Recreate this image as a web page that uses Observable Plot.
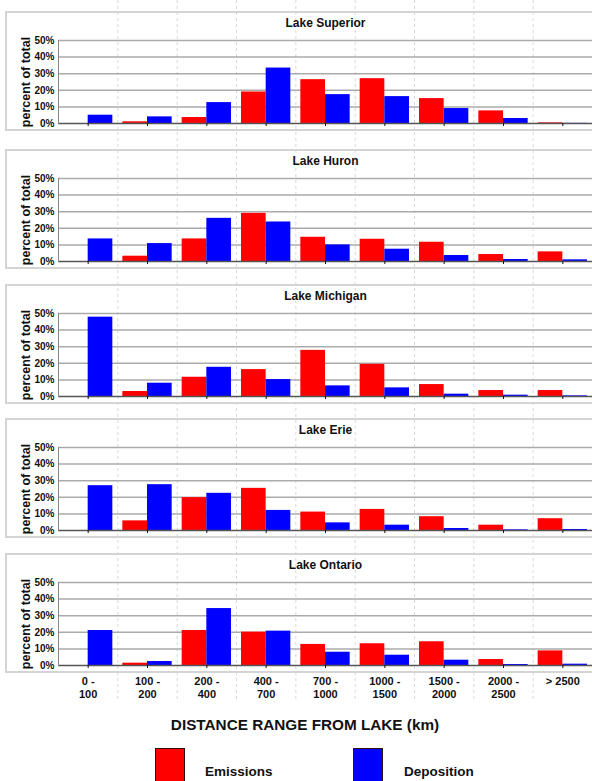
<!DOCTYPE html>
<html><head><meta charset="utf-8">
<script src="https://cdn.jsdelivr.net/npm/d3@7"></script>
<script src="https://cdn.jsdelivr.net/npm/@observablehq/plot@0.6"></script>
<style>
body{margin:0;background:#fff;font-family:"Liberation Sans",Arial,sans-serif;}
#root{position:relative;width:592px;height:781px;overflow:hidden;background:#fff;}
#root > svg{position:absolute;left:0;}
.box{position:absolute;left:5px;width:640px;border:2px solid #d4d4d4;box-sizing:border-box;}
.xtitle{position:absolute;left:0;width:610px;text-align:center;font-weight:bold;font-size:15.3px;line-height:20px;color:#111;}
.sw{position:absolute;box-sizing:border-box;border:1.5px solid #301010;}
.lt{position:absolute;font-weight:bold;font-size:13.5px;line-height:16px;color:#111;}
</style></head><body><div id="root"></div>
<script>
// ---- data ----
const categories = ["0-100","100-200","200-400","400-700","700-1000","1000-1500","1500-2000","2000-2500",">2500"];
const tickLabels = ["0 -\n100","100 -\n200","200 -\n400","400 -\n700","700 -\n1000","1000 -\n1500","1500 -\n2000","2000 -\n2500","> 2500"];
const lakes = ["Lake Superior","Lake Huron","Lake Michigan","Lake Erie","Lake Ontario"];
const seriesNames = ["Emissions","Deposition"];
const seriesColors = ["#ff0000","#0000ff"];
const yTicks = [0,10,20,30,40,50];
const yLabel = "percent of total";
const xTitle = "DISTANCE RANGE FROM LAKE (km)";

const superiorEmissions  = [0, 1.0, 3.6, 19.0, 26.4, 27.0, 15.0, 7.6, 0.4];
const superiorDeposition = [5.0, 4.0, 12.6, 33.4, 17.4, 16.2, 9.0, 3.0, 0.1];
const huronEmissions     = [0, 3.2, 13.6, 29.0, 14.6, 13.4, 11.6, 4.2, 5.8];
const huronDeposition    = [13.6, 10.8, 26.0, 23.8, 10.0, 7.4, 3.6, 1.2, 1.0];
const michiganEmissions  = [0, 3.0, 11.6, 16.2, 27.8, 19.4, 7.2, 3.6, 3.6];
const michiganDeposition = [47.8, 8.0, 17.6, 10.2, 6.4, 5.2, 1.4, 0.8, 0.4];
const erieEmissions      = [0, 5.8, 19.8, 25.4, 11.1, 12.7, 8.3, 3.2, 7.1];
const erieDeposition     = [27.0, 27.6, 22.4, 12.1, 4.6, 3.2, 1.2, 0.4, 0.6];
const ontarioEmissions   = [0, 1.4, 21.1, 20.1, 12.7, 13.1, 14.3, 3.6, 8.8];
const ontarioDeposition  = [21.1, 2.4, 34.3, 20.7, 8.0, 6.2, 3.2, 0.6, 0.8];

const emissions  = [superiorEmissions, huronEmissions, michiganEmissions, erieEmissions, ontarioEmissions];
const deposition = [superiorDeposition, huronDeposition, michiganDeposition, erieDeposition, ontarioDeposition];

// ---- layout ----
const W = 592, ML = 58;
const boxTops = [11, 149, 284, 418, 553];
const boxH = 120, plotTopOff = 29, plotBottomOff = 112, extraBottom = 42;
const font = "'Liberation Sans', Arial, Helvetica, sans-serif";
const root = document.getElementById("root");

// background dashed separators
const bg = Plot.plot({
  width: W, height: 702, marginLeft: ML, marginRight: 0, marginTop: 0, marginBottom: 0,
  style: {background: "transparent"},
  x: {domain: [0, categories.length], axis: null},
  y: {axis: null},
  marks: [Plot.ruleX(d3.range(1, categories.length), {stroke: "#d8d8d8", strokeDasharray: "3,3"})]
});
bg.style.top = "0px";
root.appendChild(bg);

function panel(name, em, dep, last) {
  const rows = categories.map((c, i) => ({c, e: em[i], d: dep[i]}));
  const step = (W - ML) / categories.length;
  const gap = 5;
  const H = last ? boxH + extraBottom : boxH;
  return Plot.plot({
    width: W, height: H, marginLeft: ML, marginRight: 0,
    marginTop: plotTopOff, marginBottom: H - plotBottomOff,
    style: {fontFamily: font, fontSize: "10px", fontWeight: "bold", background: "transparent", overflow: "visible", color: "#111"},
    x: {type: "band", domain: categories, padding: 0, round: false, axis: null},
    y: {domain: [0, 50], axis: null},
    marks: [
      Plot.ruleY(yTicks.slice(1), {stroke: "#ababab", strokeWidth: 1.5}),
      Plot.barY(rows, {x: "c", y: "e", fill: seriesColors[0], insetLeft: gap, insetRight: step / 2}),
      Plot.barY(rows, {x: "c", y: "d", fill: seriesColors[1], insetLeft: step / 2, insetRight: gap}),
      Plot.ruleY([0], {stroke: "#555", strokeWidth: 1.5}),
      Plot.frame({anchor: "left", stroke: "#888"}),
      Plot.axisY({ticks: yTicks, tickFormat: d => d + "%", tickSize: 0, tickPadding: 4, label: null}),
      Plot.text([yLabel], {frameAnchor: "left", rotate: -90, dx: -32.5, lineAnchor: "middle", textAnchor: "middle", fontSize: 12.5, fontWeight: "bold"}),
      Plot.axisX({tickSize: 3, tickPadding: 8, label: null, fontSize: 11, lineHeight: 1.15,
        tickFormat: last ? d => tickLabels[categories.indexOf(d)] : () => ""}),
      Plot.text([name], {frameAnchor: "top", dy: -17, lineAnchor: "middle", fontSize: 12, fontWeight: "bold"})
    ]
  });
}

lakes.forEach((name, i) => {
  const box = document.createElement("div");
  box.className = "box";
  box.style.top = boxTops[i] + "px";
  box.style.height = boxH + "px";
  root.appendChild(box);
  const svg = panel(name, emissions[i], deposition[i], i === lakes.length - 1);
  svg.style.top = boxTops[i] + "px";
  root.appendChild(svg);
});

const xt = document.createElement("div");
xt.className = "xtitle";
xt.style.top = "715px";
xt.textContent = xTitle;
root.appendChild(xt);

const swLeft = [155, 353], txtLeft = [205, 404];
seriesNames.forEach((s, i) => {
  const sw = document.createElement("div");
  sw.className = "sw";
  sw.style.left = swLeft[i] + "px"; sw.style.top = "748px";
  sw.style.width = "30px"; sw.style.height = "36px";
  sw.style.background = seriesColors[i];
  root.appendChild(sw);
  const t = document.createElement("div");
  t.className = "lt";
  t.style.left = txtLeft[i] + "px"; t.style.top = "764px";
  t.textContent = s;
  root.appendChild(t);
});
</script></body></html>
